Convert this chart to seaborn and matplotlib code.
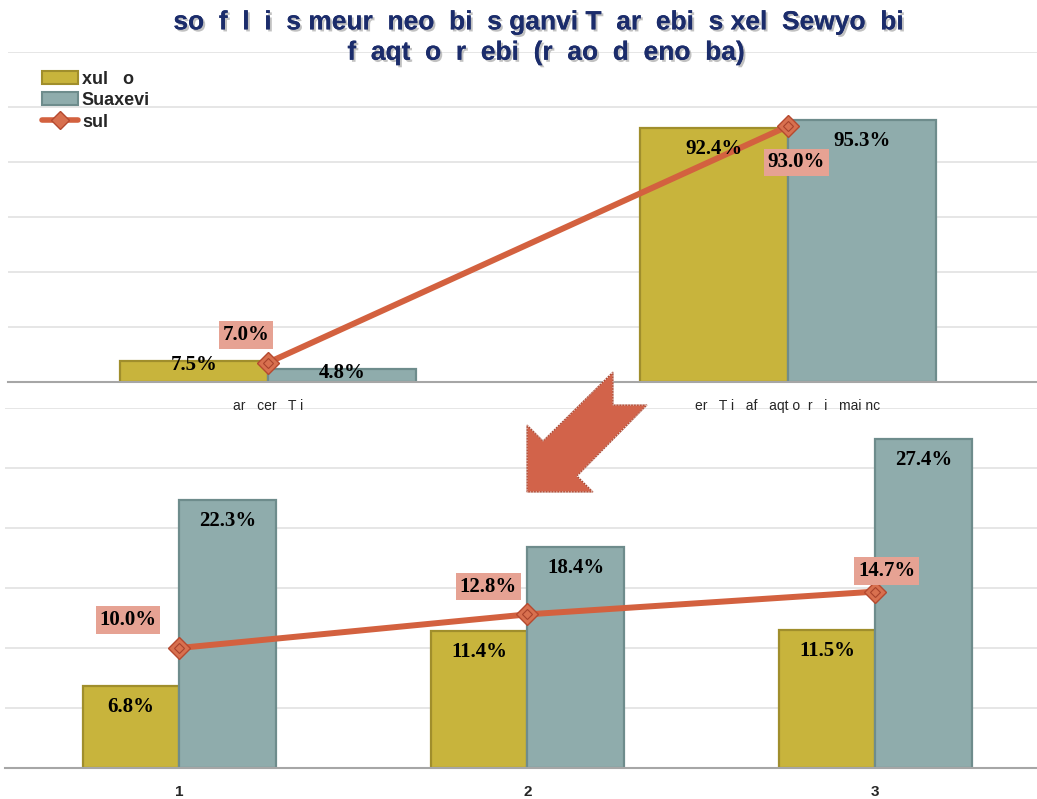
import matplotlib
matplotlib.use("Agg")
import matplotlib.pyplot as plt
import matplotlib.patheffects as pe
from matplotlib.patches import Patch, Polygon
from matplotlib.lines import Line2D
import pandas as pd
import seaborn as sns

# --- dados ---
titulo_1 = "so  f  l  i  s meur  neo  bi  s ganvi T  ar  ebi  s xel  Sewyo  bi  "
titulo_2 = "f  aqt  o  r  ebi  (r  ao  d  eno  ba)"
series = ["xul   o", "Suaxevi"]
serie_linha = "sul"

cat_topo = ["ar   cer   T i", "er   T i   af   aqt o  r   i   mai nc"]
topo_xulo = [7.5, 92.4]
topo_suaxevi = [4.8, 95.3]
topo_sul = [7.0, 93.0]

cat_baixo = ["1", "2", "3"]
baixo_xulo = [6.8, 11.4, 11.5]
baixo_suaxevi = [22.3, 18.4, 27.4]
baixo_sul = [10.0, 12.8, 14.7]

# deslocamento (pt) dos rótulos da linha
desl_topo = [(-16, 20), (6, -26)]
desl_baixo = [(-37, 20), (-28, 20), (8, 15)]

cores = ["#C8B43C", "#8FACAC"]
bordas = ["#A08E2C", "#6E8C8C"]
cor_linha = "#D3613F"

sns.set_style("white")
fig = plt.figure(figsize=(10.37, 7.99), dpi=100)

ax1 = fig.add_axes([0.0077, 0.522, 0.9923, 0.413])
ax2 = fig.add_axes([0.005, 0.0388, 1.007, 0.4506])
# o eixo de cima fica por cima para os rótulos das categorias não serem cortados
ax1.set_zorder(2)
ax1.set_facecolor("none")
ax2.set_facecolor("none")


def desenha(ax, cats, v1, v2, vl, ymax, largura, desl):
    df = pd.DataFrame({
        "cat": cats * 2,
        "serie": [series[0]] * len(cats) + [series[1]] * len(cats),
        "valor": v1 + v2,
    })
    sns.barplot(data=df, x="cat", y="valor", hue="serie", palette=cores,
                width=largura, ax=ax, legend=False, saturation=1, zorder=2)
    for cont, borda in zip(ax.containers, bordas):
        for barra in cont:
            barra.set_edgecolor(borda)
            barra.set_linewidth(1.6)
    # rótulos das barras
    for cont in ax.containers:
        for barra in cont:
            h = barra.get_height()
            off = -15 if h > ymax * 0.15 else -3
            ax.annotate(f"{h:.1f}%", (barra.get_x() + barra.get_width() / 2, h),
                        xytext=(0, off), textcoords="offset points",
                        ha="center", va="center", fontsize=15,
                        fontfamily="Liberation Serif", fontweight="bold",
                        color="black", zorder=5)
    xs = list(range(len(cats)))
    ax.plot(xs, vl, color=cor_linha, lw=4.3, marker="D", ms=11,
            mfc="#D8704F", mec="#B5492F", mew=1, zorder=4)
    ax.plot(xs, vl, ls="none", marker="D", ms=5.5, mfc="none",
            mec="#A8432C", mew=0.8, zorder=4)
    for x, v, (dx, dy) in zip(xs, vl, desl):
        ax.annotate(f"{v:.1f}%", (x, v), xytext=(dx, dy),
                    textcoords="offset points", ha="center", va="center",
                    fontsize=15, fontfamily="Liberation Serif",
                    fontweight="bold", color="black", zorder=6,
                    bbox=dict(boxstyle="square,pad=0.18", fc="#E6A293",
                              ec="none"))
    ax.set_ylim(0, ymax)
    ax.set_xlim(-0.5, len(cats) - 0.5)
    ax.set_xlabel("")
    ax.set_ylabel("")
    ax.grid(axis="y", color="#E2E2E2", lw=1.2, zorder=0)
    ax.set_axisbelow(True)
    for s in ["top", "left", "right"]:
        ax.spines[s].set_visible(False)
    ax.spines["bottom"].set_color("#A6A6A6")
    ax.spines["bottom"].set_linewidth(1.5)
    ax.tick_params(axis="x", length=0)


desenha(ax1, cat_topo, topo_xulo, topo_suaxevi, topo_sul, 120, 0.57, desl_topo)
ax1.set_xlim(-0.5, 1.479)
ax1.set_yticks([20, 40, 60, 80, 100, 120])
ax1.tick_params(axis="y", length=0, labelleft=False)
ax1.set_xticklabels(cat_topo, fontsize=10, fontfamily="Liberation Sans")
ax1.tick_params(axis="x", pad=12)

desenha(ax2, cat_baixo, baixo_xulo, baixo_suaxevi, baixo_sul, 30, 0.555, desl_baixo)
ax2.set_yticks([5, 10, 15, 20, 25, 30])
ax2.tick_params(axis="y", length=0, labelleft=False)
ax2.set_xticklabels(cat_baixo, fontsize=11, fontweight="bold",
                    fontfamily="Liberation Sans")
ax2.tick_params(axis="x", pad=12)

# título
sombra = [pe.withSimplePatchShadow(offset=(1.5, -1.5), shadow_rgbFace="#999999", alpha=0.6), pe.Normal()]
for y, t in [(0.972, titulo_1), (0.934, titulo_2)]:
    fig.text(0.527, y, t, ha="center", va="center", fontsize=19,
             fontweight="bold", color="#1B2C6B", fontfamily="Liberation Sans",
             path_effects=sombra)

# legenda
alca = [Patch(fc=cores[0], ec=bordas[0], lw=1.5),
        Patch(fc=cores[1], ec=bordas[1], lw=1.5),
        Line2D([], [], color=cor_linha, lw=4, marker="D", ms=9,
               mfc="#D8704F", mec="#B5492F")]
leg = fig.legend(alca, series + [serie_linha], loc="upper left",
                 bbox_to_anchor=(0.025, 0.932), frameon=False, handlelength=2.0,
                 handleheight=0.7, labelspacing=0.25, handletextpad=0.2,
                 prop={"family": "Liberation Sans", "weight": "bold", "size": 13})
leg.set_zorder(5)

# seta decorativa
W, H = 1037, 799
pts = [(527, 492), (593, 492), (577, 476), (647, 405), (613, 405),
       (613, 372), (543, 441), (527, 425)]
seta = Polygon([(x / W, 1 - y / H) for x, y in pts], closed=True,
               transform=fig.transFigure, fc="#D2634A", ec="#A84530",
               lw=0.8, zorder=10)
fig.patches.append(seta)
borda_seta = Polygon([(x / W, 1 - y / H) for x, y in pts], closed=True,
                     transform=fig.transFigure, fc="none", ec="white",
                     lw=0.6, ls=(0, (1.5, 2)), zorder=11)
fig.patches.append(borda_seta)

plt.savefig("out.png", dpi=100)
